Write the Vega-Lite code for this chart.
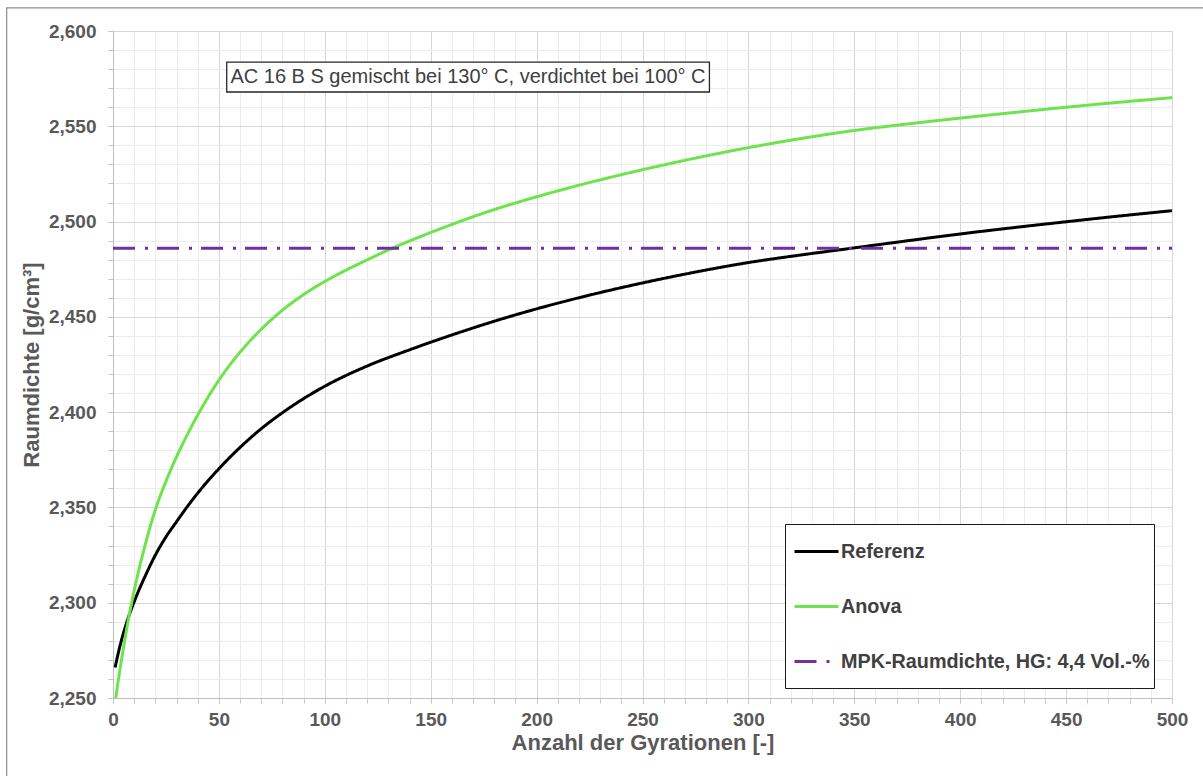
{
  "$schema": "https://vega.github.io/schema/vega-lite/v6.json",
  "width": 1059,
  "height": 667,
  "autosize": {"type": "none"},
  "padding": {"left": 113, "top": 31, "right": 31, "bottom": 78},
  "background": "white",
  "config": {"view": {"stroke": null}, "font": "Liberation Sans"},
  "resolve": {"axis": {"x": "independent", "y": "independent"}},
  "datasets": {
    "curves": [
      {"gyr": 1, "dichte": 2.266, "serie": "Referenz"},
      {"gyr": 2, "dichte": 2.2712, "serie": "Referenz"},
      {"gyr": 3, "dichte": 2.276, "serie": "Referenz"},
      {"gyr": 4, "dichte": 2.2803, "serie": "Referenz"},
      {"gyr": 5, "dichte": 2.2843, "serie": "Referenz"},
      {"gyr": 6, "dichte": 2.288, "serie": "Referenz"},
      {"gyr": 7, "dichte": 2.2914, "serie": "Referenz"},
      {"gyr": 8, "dichte": 2.2946, "serie": "Referenz"},
      {"gyr": 10, "dichte": 2.3005, "serie": "Referenz"},
      {"gyr": 12, "dichte": 2.306, "serie": "Referenz"},
      {"gyr": 15, "dichte": 2.3135, "serie": "Referenz"},
      {"gyr": 20, "dichte": 2.325, "serie": "Referenz"},
      {"gyr": 25, "dichte": 2.3345, "serie": "Referenz"},
      {"gyr": 30, "dichte": 2.3425, "serie": "Referenz"},
      {"gyr": 35, "dichte": 2.3503, "serie": "Referenz"},
      {"gyr": 40, "dichte": 2.3575, "serie": "Referenz"},
      {"gyr": 50, "dichte": 2.3703, "serie": "Referenz"},
      {"gyr": 60, "dichte": 2.3815, "serie": "Referenz"},
      {"gyr": 70, "dichte": 2.3913, "serie": "Referenz"},
      {"gyr": 80, "dichte": 2.3997, "serie": "Referenz"},
      {"gyr": 90, "dichte": 2.4071, "serie": "Referenz"},
      {"gyr": 100, "dichte": 2.4136, "serie": "Referenz"},
      {"gyr": 120, "dichte": 2.4242, "serie": "Referenz"},
      {"gyr": 140, "dichte": 2.4327, "serie": "Referenz"},
      {"gyr": 160, "dichte": 2.4405, "serie": "Referenz"},
      {"gyr": 180, "dichte": 2.4477, "serie": "Referenz"},
      {"gyr": 200, "dichte": 2.4542, "serie": "Referenz"},
      {"gyr": 225, "dichte": 2.4614, "serie": "Referenz"},
      {"gyr": 250, "dichte": 2.4678, "serie": "Referenz"},
      {"gyr": 275, "dichte": 2.4735, "serie": "Referenz"},
      {"gyr": 300, "dichte": 2.4785, "serie": "Referenz"},
      {"gyr": 325, "dichte": 2.4825, "serie": "Referenz"},
      {"gyr": 350, "dichte": 2.4862, "serie": "Referenz"},
      {"gyr": 375, "dichte": 2.4899, "serie": "Referenz"},
      {"gyr": 400, "dichte": 2.4935, "serie": "Referenz"},
      {"gyr": 425, "dichte": 2.4968, "serie": "Referenz"},
      {"gyr": 450, "dichte": 2.4999, "serie": "Referenz"},
      {"gyr": 475, "dichte": 2.5029, "serie": "Referenz"},
      {"gyr": 500, "dichte": 2.5057, "serie": "Referenz"},
      {"gyr": 1, "dichte": 2.2475, "serie": "Anova"},
      {"gyr": 2, "dichte": 2.2555, "serie": "Anova"},
      {"gyr": 3, "dichte": 2.263, "serie": "Anova"},
      {"gyr": 4, "dichte": 2.27, "serie": "Anova"},
      {"gyr": 5, "dichte": 2.2767, "serie": "Anova"},
      {"gyr": 6, "dichte": 2.2833, "serie": "Anova"},
      {"gyr": 7, "dichte": 2.2896, "serie": "Anova"},
      {"gyr": 8, "dichte": 2.2955, "serie": "Anova"},
      {"gyr": 10, "dichte": 2.3064, "serie": "Anova"},
      {"gyr": 12, "dichte": 2.3163, "serie": "Anova"},
      {"gyr": 15, "dichte": 2.3296, "serie": "Anova"},
      {"gyr": 20, "dichte": 2.3488, "serie": "Anova"},
      {"gyr": 25, "dichte": 2.3637, "serie": "Anova"},
      {"gyr": 30, "dichte": 2.3766, "serie": "Anova"},
      {"gyr": 35, "dichte": 2.388, "serie": "Anova"},
      {"gyr": 40, "dichte": 2.3985, "serie": "Anova"},
      {"gyr": 50, "dichte": 2.4168, "serie": "Anova"},
      {"gyr": 60, "dichte": 2.4315, "serie": "Anova"},
      {"gyr": 70, "dichte": 2.4435, "serie": "Anova"},
      {"gyr": 80, "dichte": 2.4535, "serie": "Anova"},
      {"gyr": 90, "dichte": 2.4617, "serie": "Anova"},
      {"gyr": 100, "dichte": 2.4686, "serie": "Anova"},
      {"gyr": 110, "dichte": 2.4745, "serie": "Anova"},
      {"gyr": 120, "dichte": 2.4799, "serie": "Anova"},
      {"gyr": 130, "dichte": 2.4851, "serie": "Anova"},
      {"gyr": 140, "dichte": 2.4898, "serie": "Anova"},
      {"gyr": 160, "dichte": 2.4985, "serie": "Anova"},
      {"gyr": 180, "dichte": 2.5063, "serie": "Anova"},
      {"gyr": 200, "dichte": 2.513, "serie": "Anova"},
      {"gyr": 225, "dichte": 2.5205, "serie": "Anova"},
      {"gyr": 250, "dichte": 2.5272, "serie": "Anova"},
      {"gyr": 275, "dichte": 2.5333, "serie": "Anova"},
      {"gyr": 300, "dichte": 2.5388, "serie": "Anova"},
      {"gyr": 325, "dichte": 2.5436, "serie": "Anova"},
      {"gyr": 350, "dichte": 2.5478, "serie": "Anova"},
      {"gyr": 375, "dichte": 2.5512, "serie": "Anova"},
      {"gyr": 400, "dichte": 2.5543, "serie": "Anova"},
      {"gyr": 425, "dichte": 2.5572, "serie": "Anova"},
      {"gyr": 450, "dichte": 2.56, "serie": "Anova"},
      {"gyr": 475, "dichte": 2.5626, "serie": "Anova"},
      {"gyr": 500, "dichte": 2.565, "serie": "Anova"},
      {"gyr": 0, "dichte": 2.486, "serie": "MPK-Raumdichte, HG: 4,4 Vol.-%"},
      {"gyr": 500, "dichte": 2.486, "serie": "MPK-Raumdichte, HG: 4,4 Vol.-%"}
    ]
  },
  "layer": [
    {
      "data": {"values": [{}]},
      "mark": {"type": "rect", "fill": null, "fillOpacity": 0, "stroke": "#8c8c8c", "strokeWidth": 1.2},
      "encoding": {
        "x": {
          "datum": -50.2, "type": "quantitative",
          "scale": {"domain": [0, 500], "nice": false, "zero": false},
          "axis": {
            "orient": "bottom", "title": null, "labels": false, "domain": false,
            "values": [0,10,20,30,40,50,60,70,80,90,100,110,120,130,140,150,160,170,180,190,200,210,220,230,240,250,260,270,280,290,300,310,320,330,340,350,360,370,380,390,400,410,420,430,440,450,460,470,480,490,500],
            "grid": true, "gridColor": "#ececec", "ticks": true, "tickColor": "#c4c4c4", "tickSize": 5
          }
        },
        "x2": {"datum": 560},
        "y": {
          "datum": 2.6121, "type": "quantitative",
          "scale": {"domain": [2.25, 2.6], "nice": false, "zero": false},
          "axis": {
            "orient": "left", "title": null, "labels": false, "domain": false,
            "values": [2.25,2.26,2.27,2.28,2.29,2.3,2.31,2.32,2.33,2.34,2.35,2.36,2.37,2.38,2.39,2.4,2.41,2.42,2.43,2.44,2.45,2.46,2.47,2.48,2.49,2.5,2.51,2.52,2.53,2.54,2.55,2.56,2.57,2.58,2.59,2.6],
            "grid": true, "gridColor": "#ececec", "ticks": true, "tickColor": "#c4c4c4", "tickSize": 5
          }
        },
        "y2": {"datum": 2.17}
      }
    },
    {
      "data": {"name": "curves"},
      "mark": {"type": "line", "strokeWidth": 3, "clip": true, "interpolate": "monotone"},
      "encoding": {
        "x": {
          "field": "gyr", "type": "quantitative",
          "axis": {
            "orient": "bottom",
            "title": "Anzahl der Gyrationen [-]",
            "values": [0, 50, 100, 150, 200, 250, 300, 350, 400, 450, 500],
            "format": "d",
            "grid": true,
            "gridColor": "#d6d6d6",
            "domainColor": "#bfbfbf",
            "tickColor": "#c4c4c4",
            "tickSize": 5,
            "labelPadding": 7,
            "labelFont": "Liberation Sans",
            "labelFontSize": 19,
            "labelFontWeight": "bold",
            "labelColor": "#595959",
            "labelFlush": false,
            "labelOverlap": false,
            "titleFont": "Liberation Sans",
            "titleFontSize": 22,
            "titleFontWeight": "bold",
            "titleColor": "#595959",
            "titlePadding": 3
          }
        },
        "y": {
          "field": "dichte", "type": "quantitative",
          "axis": {
            "orient": "left",
            "title": "Raumdichte [g/cm³]",
            "values": [2.25, 2.3, 2.35, 2.4, 2.45, 2.5, 2.55, 2.6],
            "labelExpr": "replace(format(datum.value, '.3f'), '.', ',')",
            "grid": true,
            "gridColor": "#d6d6d6",
            "domainColor": "#bfbfbf",
            "tickColor": "#c4c4c4",
            "tickSize": 5,
            "labelPadding": 12,
            "labelFont": "Liberation Sans",
            "labelFontSize": 19,
            "labelFontWeight": "bold",
            "labelColor": "#595959",
            "labelOverlap": false,
            "titleFont": "Liberation Sans",
            "titleFontSize": 22,
            "titleFontWeight": "bold",
            "titleColor": "#595959",
            "titlePadding": 5
          }
        },
        "color": {
          "field": "serie", "type": "nominal",
          "scale": {"domain": ["Referenz", "Anova", "MPK-Raumdichte, HG: 4,4 Vol.-%"], "range": ["#000000", "#6fe34e", "#7030a0"]},
          "legend": {"title": " ", "titleOrient": "bottom", "titleFontSize": 8, "titlePadding": 5, "orient": "none", "legendX": 672, "legendY": 493, "direction": "vertical", "fillColor": "white", "strokeColor": "#1a1a1a", "padding": 4, "symbolOffset": 4, "symbolType": "stroke", "symbolSize": 1936, "symbolStrokeWidth": 3, "labelFont": "Liberation Sans", "labelFontSize": 19.8, "labelFontWeight": "bold", "labelColor": "#404040", "labelOffset": 1, "labelLimit": 400, "rowPadding": 21}
        },
        "strokeDash": {
          "field": "serie", "type": "nominal",
          "scale": {"domain": ["Referenz", "Anova", "MPK-Raumdichte, HG: 4,4 Vol.-%"], "range": [[1, 0], [1, 0], [22, 10, 3, 9]]},
          "legend": {"title": " ", "titleOrient": "bottom", "titleFontSize": 8, "titlePadding": 5, "orient": "none", "legendX": 672, "legendY": 493, "direction": "vertical", "fillColor": "white", "strokeColor": "#1a1a1a", "padding": 4, "symbolOffset": 4, "symbolType": "stroke", "symbolSize": 1936, "symbolStrokeWidth": 3, "labelFont": "Liberation Sans", "labelFontSize": 19.8, "labelFontWeight": "bold", "labelColor": "#404040", "labelOffset": 1, "labelLimit": 400, "rowPadding": 21}
        }
      }
    },
    {
      "data": {"values": [{}]},
      "mark": {"type": "rect", "fill": "white", "stroke": "#262626", "strokeWidth": 1.3},
      "encoding": {
        "x": {"datum": 53.7, "type": "quantitative", "axis": null},
        "x2": {"datum": 281.6},
        "y": {"datum": 2.5837, "type": "quantitative", "axis": null},
        "y2": {"datum": 2.568}
      }
    },
    {
      "data": {"values": [{"label": "AC 16 B S gemischt bei 130° C, verdichtet bei 100° C"}]},
      "mark": {"type": "text", "align": "center", "baseline": "middle", "font": "Liberation Sans", "fontSize": 20, "color": "#404040"},
      "encoding": {
        "x": {"datum": 167.6, "type": "quantitative", "axis": null},
        "y": {"datum": 2.5758, "type": "quantitative", "axis": null},
        "text": {"field": "label"}
      }
    }
  ]
}
